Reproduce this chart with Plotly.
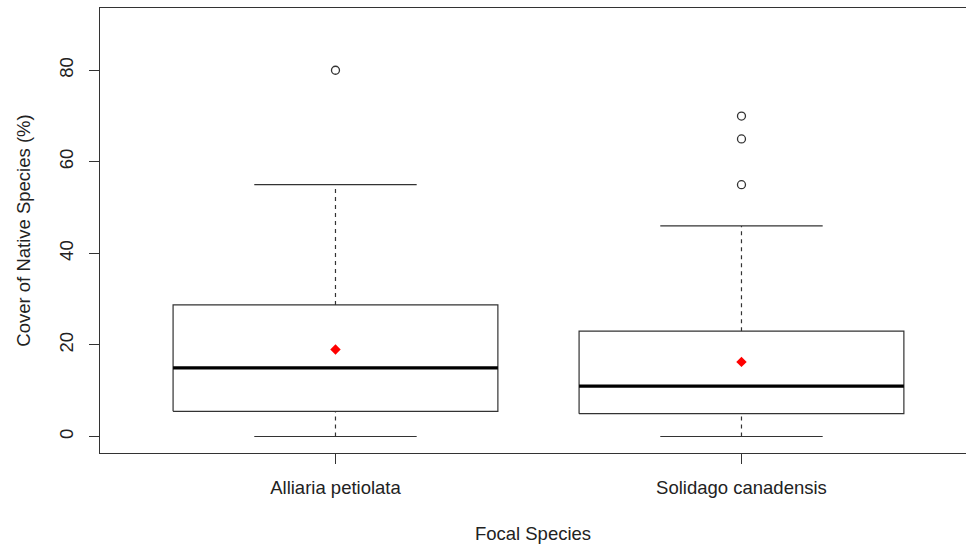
import plotly.graph_objects as go

categories = ["Alliaria petiolata", "Solidago canadensis"]
q1 = [5.5, 5.0]
median = [15.0, 11.0]
q3 = [28.75, 23.0]
lower_whisker = [0.0, 0.0]
upper_whisker = [55.0, 46.0]
means = [19.0, 16.3]
outliers = [[80.0], [55.0, 65.0, 70.0]]

y_ticks = [0, 20, 40, 60, 80]

BOX_HALF = 0.4
STAPLE_HALF = 0.2
LINE = "#333333"
TEXT = "#222222"
FS = 18.5

fig = go.Figure()
positions = list(range(1, len(categories) + 1))

for i, p in enumerate(positions):
    # whiskers (dashed)
    fig.add_trace(go.Scatter(x=[p, p], y=[q3[i], upper_whisker[i]], mode="lines",
                             line=dict(color=LINE, width=1.2, dash="4px,4px"), hoverinfo="skip"))
    fig.add_trace(go.Scatter(x=[p, p], y=[lower_whisker[i], q1[i]], mode="lines",
                             line=dict(color=LINE, width=1.2, dash="4px,4px"), hoverinfo="skip"))
    # staples
    fig.add_trace(go.Scatter(x=[p - STAPLE_HALF, p + STAPLE_HALF], y=[upper_whisker[i]] * 2, mode="lines",
                             line=dict(color=LINE, width=1.2), hoverinfo="skip"))
    fig.add_trace(go.Scatter(x=[p - STAPLE_HALF, p + STAPLE_HALF], y=[lower_whisker[i]] * 2, mode="lines",
                             line=dict(color=LINE, width=1.2), hoverinfo="skip"))
    # box
    fig.add_trace(go.Scatter(x=[p - BOX_HALF, p + BOX_HALF, p + BOX_HALF, p - BOX_HALF, p - BOX_HALF],
                             y=[q1[i], q1[i], q3[i], q3[i], q1[i]], mode="lines",
                             fill="toself", fillcolor="white",
                             line=dict(color=LINE, width=1.2), hoverinfo="skip"))
    # median
    fig.add_trace(go.Scatter(x=[p - BOX_HALF, p + BOX_HALF], y=[median[i]] * 2, mode="lines",
                             line=dict(color="black", width=3.2), hoverinfo="skip"))
    # outliers
    fig.add_trace(go.Scatter(x=[p] * len(outliers[i]), y=outliers[i], mode="markers",
                             marker=dict(symbol="circle-open", size=8, color=LINE, line=dict(width=1.3, color=LINE)),
                             hoverinfo="skip"))
    # mean
    fig.add_trace(go.Scatter(x=[p], y=[means[i]], mode="markers",
                             marker=dict(symbol="diamond", size=8, color="#ff0000"), hoverinfo="skip"))

fig.update_layout(
    width=966, height=548,
    margin=dict(l=100, r=0, t=8, b=95),
    paper_bgcolor="white", plot_bgcolor="white",
    showlegend=False,
    font=dict(family="Liberation Sans, Arial, sans-serif", size=FS, color=TEXT),
    xaxis=dict(range=[0.42, 0.42 + 866 / 406], tickmode="array", tickvals=positions, ticktext=categories,
               showgrid=False, zeroline=False, showline=True, mirror=True, linecolor=LINE, linewidth=1.2,
               ticks="outside", ticklen=10, tickcolor=LINE, tickwidth=1.2, ticklabelstandoff=8,
               tickfont=dict(size=FS, color=TEXT),
               title=dict(text="Focal Species", font=dict(size=FS, color=TEXT), standoff=29)),
    yaxis=dict(range=[-3.6, 93.6], tickmode="array", tickvals=y_ticks, ticktext=[str(t) for t in y_ticks],
               showgrid=False, zeroline=False, showline=True, mirror=False, linecolor=LINE, linewidth=1.2,
               ticks="outside", ticklen=10, tickcolor=LINE, tickwidth=1.2, tickangle=-90,
               ticklabelstandoff=9,
               tickfont=dict(size=FS, color=TEXT),
               title=dict(text="Cover of Native Species (%)", font=dict(size=FS, color=TEXT), standoff=20)),
    hovermode=False,
)

fig.write_html("out.html")
